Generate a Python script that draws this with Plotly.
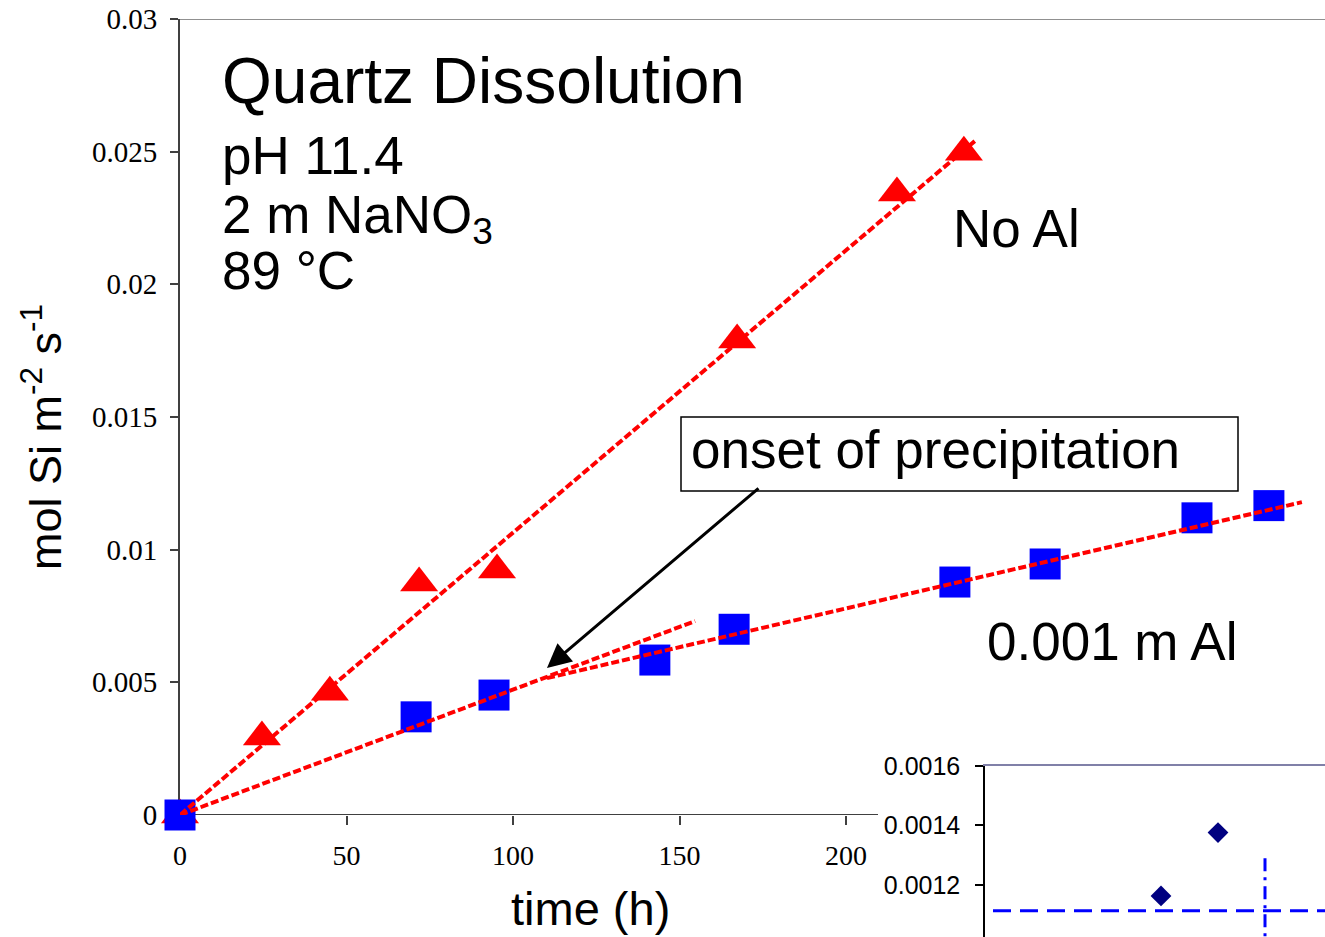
import plotly.graph_objects as go

W, H = 1325, 937

# ---- data ----
# No Al series (red triangles)
t_noal = [0, 24.6, 45.0, 71.8, 95.2, 167.3, 215.3, 235.4]
y_noal = [0, 0.00294, 0.00463, 0.00874, 0.00923, 0.0179, 0.02344, 0.02498]
# 0.001 m Al series (blue squares)
t_al = [0, 70.9, 94.3, 142.6, 166.4, 232.7, 259.8, 305.4, 327.0]
y_al = [0, 0.0037, 0.00452, 0.00584, 0.0070, 0.00878, 0.00946, 0.0112, 0.01166]
# fitted lines
fit_noal_t = [0, 238.7]
fit_noal_y = [0, 0.0254]
fit_al1_t = [0, 154.7]
fit_al1_y = [0, 0.00731]
fit_al2_t = [110.2, 336.9]
fit_al2_y = [0.00516, 0.01179]
# arrow target (onset of precipitation)
onset_t, onset_y = 110.2, 0.00554

x_ticks = [0, 50, 100, 150, 200]
y_ticks = [0, 0.005, 0.01, 0.015, 0.02, 0.025, 0.03]
y_ticklabels = ["0", "0.005", "0.01", "0.015", "0.02", "0.025", "0.03"]

# inset (partially visible)
inset_t = [0, 176, 233]
inset_y = [0.0010, 0.001163, 0.001376]
inset_h_level = 0.001113
inset_h_t = [8, 340]
inset_v_t = 280
inset_v_y = [0.00129, 0.00098]
inset_ticks = [0.0012, 0.0014, 0.0016]
inset_ticklabels = ["0.0012", "0.0014", "0.0016"]


def px(x):
    return x / W


def py(y):
    return 1 - y / H


SANS = "Liberation Sans, Arial, sans-serif"
SERIF = "Liberation Serif, Times New Roman, serif"
RED = "#FF0000"
BLUE = "#0000FF"

fig = go.Figure()

fig.add_trace(go.Scatter(x=t_noal, y=y_noal, mode="markers",
                         marker=dict(symbol="triangle-up", size=33, color=RED, line=dict(width=0)),
                         xaxis="x", yaxis="y", cliponaxis=False, showlegend=False))
fig.add_trace(go.Scatter(x=t_al, y=y_al, mode="markers",
                         marker=dict(symbol="square", size=31, color=BLUE, line=dict(width=0)),
                         xaxis="x", yaxis="y", cliponaxis=False, showlegend=False))
for tx, ty in [(fit_noal_t, fit_noal_y), (fit_al1_t, fit_al1_y), (fit_al2_t, fit_al2_y)]:
    fig.add_trace(go.Scatter(x=tx, y=ty, mode="lines",
                             line=dict(color=RED, width=4, dash="8px,3px"),
                             xaxis="x", yaxis="y", showlegend=False))

# inset traces
fig.add_trace(go.Scatter(x=inset_h_t, y=[inset_h_level, inset_h_level], mode="lines",
                         line=dict(color=BLUE, width=3, dash="18px,9px"),
                         xaxis="x2", yaxis="y2", showlegend=False))
fig.add_trace(go.Scatter(x=[inset_v_t, inset_v_t], y=inset_v_y, mode="lines",
                         line=dict(color=BLUE, width=3, dash="13px,6px,3px,6px"),
                         xaxis="x2", yaxis="y2", showlegend=False))
fig.add_trace(go.Scatter(x=inset_t, y=inset_y, mode="markers",
                         marker=dict(symbol="diamond", size=16, color="#000080"),
                         xaxis="x2", yaxis="y2", cliponaxis=False, showlegend=False))

annotations = [
    dict(text="Quartz Dissolution", x=px(220), y=py(81), font=dict(size=64)),
    dict(text="pH 11.4", x=px(220), y=py(155), font=dict(size=53)),
    dict(text="2 m NaNO<sub>3</sub>", x=px(220), y=py(218), font=dict(size=53)),
    dict(text="89 °C", x=px(220), y=py(270), font=dict(size=53)),
    dict(text="No Al", x=px(951), y=py(229), font=dict(size=53)),
    dict(text="0.001 m Al", x=px(985), y=py(641), font=dict(size=53)),
    dict(text="onset of precipitation", x=px(689), y=py(450), font=dict(size=53)),
]
ann = []
for a in annotations:
    a.update(xref="paper", yref="paper", xanchor="left", yanchor="middle", showarrow=False)
    a["font"].update(family=SANS, color="black")
    ann.append(a)

ann.append(dict(text="time (h)", x=px(590), y=py(908), xref="paper", yref="paper",
                xanchor="center", yanchor="middle",
                showarrow=False, font=dict(family=SANS, size=47, color="black")))
ann.append(dict(text="mol Si m<sup>-2</sup> s<sup>-1</sup>", x=px(42), y=py(437),
                xref="paper", yref="paper", textangle=-90, showarrow=False,
                xanchor="center", yanchor="middle",
                font=dict(family=SANS, size=45, color="black")))
ann.append(dict(text="", x=onset_t, y=onset_y, xref="x", yref="y",
                ax=213, ay=-181, axref="pixel", ayref="pixel",
                showarrow=True, arrowhead=2, arrowsize=1.6, arrowwidth=3, arrowcolor="black"))

shapes = [
    # main x-axis line (hidden behind the inset on the right)
    dict(type="line", xref="paper", yref="y", x0=px(180), x1=px(878), y0=0, y1=0,
         line=dict(color="#404040", width=2), layer="below"),
    # top border
    dict(type="line", xref="paper", yref="y", x0=px(180), x1=1, y0=0.03, y1=0.03,
         line=dict(color="#909090", width=2), layer="below"),
    # text box
    dict(type="rect", xref="paper", yref="paper", x0=px(681), x1=px(1238),
         y0=py(491), y1=py(417), line=dict(color="black", width=1.5), layer="below"),
]

fig.update_layout(
    width=W, height=H,
    margin=dict(l=0, r=0, t=0, b=0, pad=0, autoexpand=False),
    paper_bgcolor="white", plot_bgcolor="rgba(0,0,0,0)",
    showlegend=False,
    annotations=ann, shapes=shapes,
    xaxis=dict(domain=[px(180), 1], range=[0, (W - 180) / 3.33], anchor="y",
               tickvals=x_ticks, ticks="outside", ticklen=9, tickwidth=1.5, tickcolor="#404040",
               showline=False, showgrid=False, zeroline=False, automargin=False,
               tickfont=dict(family=SERIF, size=28, color="black"), ticklabelstandoff=6,
               layer="below traces"),
    yaxis=dict(domain=[py(815), py(19)], range=[0, 0.03], anchor="x",
               tickvals=y_ticks, ticktext=y_ticklabels, ticks="outside", ticklen=8,
               tickwidth=1.5, tickcolor="#404040",
               showline=True, linecolor="#404040", linewidth=2,
               showgrid=False, zeroline=False, automargin=False,
               tickfont=dict(family=SERIF, size=29, color="black"), ticklabelstandoff=7,
               layer="below traces"),
    xaxis2=dict(domain=[px(985), 1], range=[0, 340], anchor="y2", side="top",
                showline=True, linecolor="#8080A8", linewidth=2, automargin=False,
                showticklabels=False, ticks="", showgrid=False, zeroline=False),
    yaxis2=dict(domain=[0, py(766)], range=[0.001025, 0.0016], anchor="x2",
                tickvals=inset_ticks, ticktext=inset_ticklabels, ticks="outside", ticklen=8,
                tickwidth=1.5, tickcolor="black", automargin=False,
                showline=True, linecolor="black", linewidth=1.5,
                showgrid=False, zeroline=False,
                tickfont=dict(family=SANS, size=25, color="black"), ticklabelstandoff=10),
)

fig.write_html("out.html")
